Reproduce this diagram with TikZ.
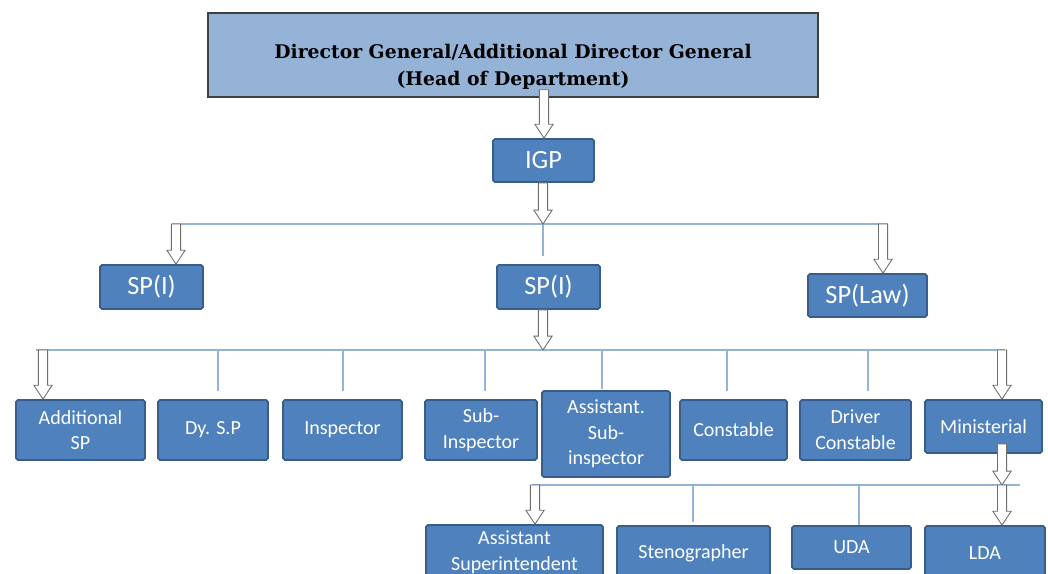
\documentclass[tikz,border=0pt]{standalone}
\usepackage{fontspec}
\setsansfont{Carlito}
\newfontfamily\headfont{DejaVu Serif}
\usetikzlibrary{calc}
\definecolor{boxblue}{HTML}{4F81BD}
\definecolor{boxedge}{HTML}{385D8A}
\definecolor{headblue}{HTML}{95B3D7}
\definecolor{busblue}{HTML}{95B3D7}
\definecolor{arrowgray}{HTML}{6E6E6E}
\tikzset{
  rank/.style={draw=boxedge, line width=1pt, fill=boxblue, text=white,
    align=center, inner sep=0pt, rounded corners=1pt},
  senior/.style={rank, font=\sffamily\fontsize{15}{18}\selectfont},
  junior/.style={rank, font=\sffamily\fontsize{11.4}{14.6}\selectfont},
  bus/.style={draw=busblue, line width=0.9pt},
  hollow/.style={draw=arrowgray, fill=white, line width=0.5pt, line join=miter},
}
% hollow block arrow, straight down, placed at the x of the end point
\newcommand{\hollowarrow}[2]{%
  \draw[hollow] let \p1=#1, \p2=#2 in
    (\x2-2.6pt,\y1) -- (\x2-2.6pt,\y2+7.9pt) -- (\x2-5.2pt,\y2+7.9pt) -- (\x2,\y2)
    -- (\x2+5.2pt,\y2+7.9pt) -- (\x2+2.6pt,\y2+7.9pt) -- (\x2+2.6pt,\y1) -- cycle;}

\begin{document}
\begin{tikzpicture}[x=0.02cm, y=-0.02cm]
\useasboundingbox (0,0) rectangle (1048,574);
\clip (0,0) rectangle (1048,574);

% head of department
\node[draw=darkgray, fill=headblue, line width=0.8pt, minimum width=12.2cm,
  minimum height=1.68cm] (dg) at (513,55) {};
\node[align=center, font=\headfont\bfseries\fontsize{10.7}{15.2}\selectfont]
  (dgtext) at ([yshift=-0.24cm]dg.center)
  {Director General/Additional Director General\\(Head of Department)};

\node[senior, minimum width=2.02cm, minimum height=0.86cm] (igp) at (543.5,160.5) {IGP};
\node[senior, minimum width=2.06cm, minimum height=0.88cm] (spl) at (151.5,287) {SP(I)};
\node[senior, minimum width=2.06cm, minimum height=0.88cm] (spc) at (548.5,287) {SP(I)};
\node[senior, minimum width=2.38cm, minimum height=0.86cm] (splaw) at (867.5,295.5) {SP(Law)};

\node[junior, minimum width=2.58cm, minimum height=1.2cm] (addsp) at (80.5,430) {Additional\\SP};
\node[junior, minimum width=2.2cm, minimum height=1.2cm] (dysp) at (213,430) {Dy. S.P};
\node[junior, minimum width=2.38cm, minimum height=1.2cm] (insp) at (342.5,430) {Inspector};
\node[junior, minimum width=2.24cm, minimum height=1.2cm] (subinsp) at (481,430) {Sub-\\Inspector};
\node[junior, minimum width=2.56cm, minimum height=1.72cm] (asi) at (606,434) {Assistant.\\Sub-\\inspector};
\node[junior, minimum width=2.14cm, minimum height=1.2cm] (const) at (733.5,430) {Constable};
\node[junior, minimum width=2.22cm, minimum height=1.2cm] (driver) at (855.5,430) {Driver\\Constable};
\node[junior, minimum width=2.34cm, minimum height=1.06cm] (minis) at (983.5,426.5) {Ministerial};

\node[junior, minimum width=3.54cm, minimum height=1.1cm] (asupt) at (514.5,552.5) {Assistant\\Superintendent};
\node[junior, minimum width=3.06cm, minimum height=1.08cm] (steno) at (693.5,553) {Stenographer};
\node[junior, minimum width=2.38cm, minimum height=0.86cm] (uda) at (851.5,547.5) {UDA};
\node[junior, minimum width=2.4cm, minimum height=1.08cm] (lda) at (985,553) {LDA};

% bus lines
\coordinate (b1w) at (172,224);
\coordinate (b1e) at (888,224);
\coordinate (b1l) at (176,224);
\coordinate (b1c) at (543,224);
\coordinate (b1r) at (883,224);
\coordinate (b2w) at (36,350);
\coordinate (b2e) at (1005,350);
\coordinate (b2l) at (43,350);
\coordinate (b2c) at (543,350);
\coordinate (b2r) at (1002,350);
\coordinate (b3w) at (532,485);
\coordinate (b3e) at (1020,485);
\coordinate (b3l) at (535,485);
\coordinate (b3r) at (1002,485);

\draw[bus] (b1w) -- (b1e);
\draw[bus] (b1c) -- ([yshift=0.16cm]spc.north -| b1c);
\draw[bus] (b2w) -- (b2e);
\foreach \x/\n/\g in {218/dysp/0.16, 343/insp/0.16, 485/subinsp/0.16,
                      602/asi/0.02, 727/const/0.16, 868/driver/0.16}
  \draw[bus] (b2w -| \x,0) -- ([yshift=\g cm]\n.north -| \x,0);
\draw[bus] (b3w) -- (b3e);
\foreach \x/\n/\g in {693/steno/0.06, 859/uda/0}
  \draw[bus] (b3w -| \x,0) -- ([yshift=\g cm]\n.north -| \x,0);

% hollow arrows
\hollowarrow{([yshift=0.16cm]dg.south)}{(igp.north -| 544,0)}
\hollowarrow{(igp.south)}{(b1c)}
\hollowarrow{(b1l)}{(spl.north -| b1l)}
\hollowarrow{(b1r)}{(splaw.north -| b1r)}
\hollowarrow{(spc.south)}{(b2c)}
\hollowarrow{(b2l)}{(addsp.north -| b2l)}
\hollowarrow{(b2r)}{(minis.north -| b2r)}
\hollowarrow{([yshift=0.2cm]minis.south)}{(b3r)}
\hollowarrow{(b3l)}{(asupt.north -| b3l)}
\hollowarrow{(b3r)}{(lda.north -| b3r)}
\end{tikzpicture}
\end{document}
